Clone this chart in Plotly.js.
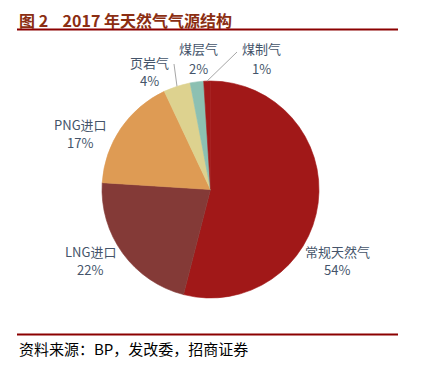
<!DOCTYPE html>
<html>
<head>
<meta charset="utf-8">
<script src="https://cdn.plot.ly/plotly-3.0.1.min.js"></script>
<style>html,body{margin:0;padding:0;background:#fff;}#chart{width:430px;height:384px;}</style>
</head>
<body>
<div id="chart"></div>
<script>
// ---- data ----
const categories = ["常规天然气", "LNG进口", "PNG进口", "页岩气", "煤层气", "煤制气"];
const shares = [54, 22, 17, 4, 2, 1];
const percentLabels = ["54%", "22%", "17%", "4%", "2%", "1%"];

// ---- styles / layout ----
const W = 430, H = 384;
const colors = ["#A11818", "#843A37", "#DE9B54", "#DDD28F", "#8CC0B2", "#A21919"];
const cx = 210.5, cy = 189.5, R = 108.5;
// label centres (px): [x, nameY, percentY]
const labelPos = [[337, 251, 269], [90, 251, 269], [80, 124, 143], [149, 62, 80], [198, 49, 68], [261, 49, 68]];
const leaderIdx = [3, 5];
const leaderStart = {3: [174, 64], 5: [237, 52]};

const px = x => x / W;
const py = y => 1 - y / H;

const total = shares.reduce((a, b) => a + b, 0);
let acc = 0;
const midAngles = shares.map(v => { const m = (acc + v / 2) / total * 360; acc += v; return m; });

const labelFont = {family: '"Noto Sans CJK SC", "Open Sans", sans-serif', size: 13, color: '#44546A'};
const annotations = [];
categories.forEach((c, i) => {
  annotations.push({xref: 'paper', yref: 'paper', x: px(labelPos[i][0]), y: py(labelPos[i][1]),
    xanchor: 'center', yanchor: 'middle', showarrow: false, borderpad: 0, text: c, font: labelFont});
  annotations.push({xref: 'paper', yref: 'paper', x: px(labelPos[i][0]), y: py(labelPos[i][2]),
    xanchor: 'center', yanchor: 'middle', showarrow: false, borderpad: 0, text: percentLabels[i], font: labelFont});
});
annotations.push({
  xref: 'paper', yref: 'paper', x: px(17), y: py(20), xanchor: 'left', yanchor: 'middle', showarrow: false,
  text: '<b>图 2\u00a0\u00a0\u00a0 2017 年天然气气源结构</b>',
  font: {family: '"Noto Sans CJK SC", "Liberation Sans", sans-serif', size: 16, color: '#8B2E12'}
});
annotations.push({
  xref: 'paper', yref: 'paper', x: px(17), y: py(348), xanchor: 'left', yanchor: 'middle', showarrow: false,
  text: '资料来源：BP，发改委，招商证券',
  font: {family: '"Noto Sans CJK SC", "Liberation Sans", sans-serif', size: 15, color: '#000'}
});

const shapes = [
  {type: 'line', xref: 'paper', yref: 'paper', x0: px(17), x1: px(398), y0: py(29.5), y1: py(29.5), line: {color: '#8B0000', width: 2}},
  {type: 'line', xref: 'paper', yref: 'paper', x0: px(17), x1: px(398), y0: py(334.5), y1: py(334.5), line: {color: '#8B0000', width: 2}}
];
leaderIdx.forEach(i => {
  const a = midAngles[i] * Math.PI / 180;
  const ex = cx + R * Math.sin(a), ey = cy - R * Math.cos(a);
  const s = leaderStart[i];
  shapes.push({type: 'line', xref: 'paper', yref: 'paper', x0: px(s[0]), y0: py(s[1]), x1: px(ex), y1: py(ey),
    line: {color: '#A6A6A6', width: 1}});
});

const trace = {
  type: 'pie', labels: categories, values: shares, sort: false, direction: 'clockwise', rotation: 0,
  marker: {colors: colors, line: {width: 0.6, color: colors}}, textinfo: 'none', hoverinfo: 'label+percent',
  domain: {x: [px(cx - R), px(cx + R)], y: [py(cy + R), py(cy - R)]}
};

Plotly.newPlot('chart', [trace], {
  width: W, height: H, margin: {l: 0, r: 0, t: 0, b: 0},
  paper_bgcolor: '#fff', showlegend: false, annotations: annotations, shapes: shapes
}, {staticPlot: true});
</script>
</body>
</html>
